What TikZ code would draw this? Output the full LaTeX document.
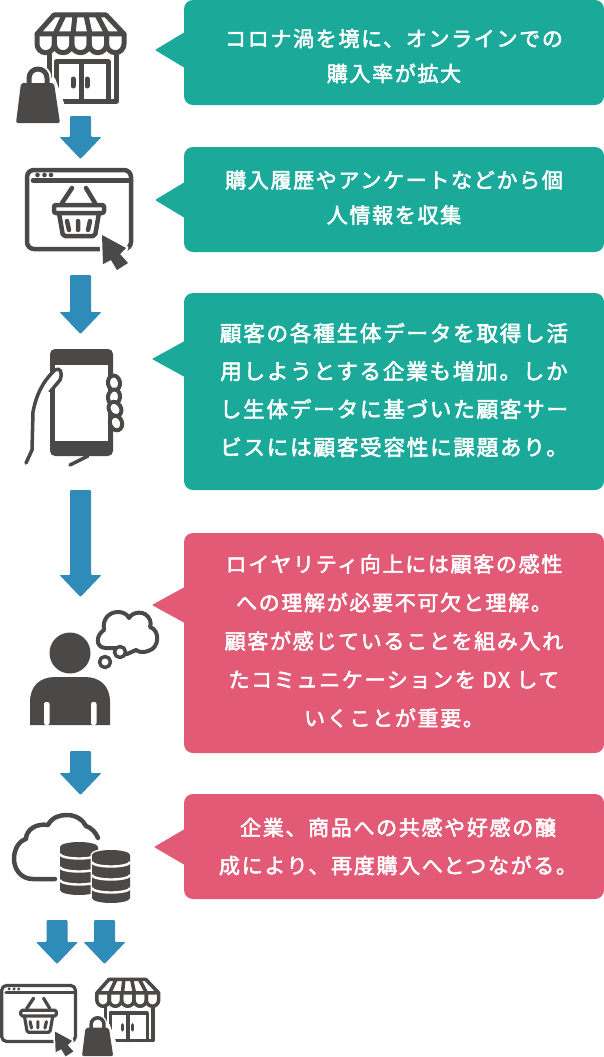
\documentclass[tikz,border=0pt]{standalone}
\usepackage{fontspec}
\setmainfont{Noto Sans CJK JP}
\newfontfamily\jpfont[LetterSpace=8,FakeBold=2.5]{Noto Sans CJK JP}
\definecolor{tealc}{HTML}{1BAA9A}
\definecolor{pinkc}{HTML}{E25A75}
\definecolor{bluec}{HTML}{2F8CB9}
\definecolor{darkc}{HTML}{4B4948}
\tikzset{
  bubble/.style={fill=#1,rounded corners=9pt,minimum width=420pt,inner sep=0pt},
  bubbletext/.style={text=white,align=center,inner sep=0pt,font=\jpfont\fontsize{21}{#1}\selectfont},
  icon/.style={draw=darkc,line width=#1,line join=round,line cap=round},
}
% x y: position of the shaft top centre, last: shaft length
\newcommand{\blockarrow}[3]{
  \fill[bluec,rounded corners=1pt] (#1-10.5,#2) -- (#1+10.5,#2) -- (#1+10.5,#2+#3) -- (#1+21,#2+#3)
    -- (#1,#2+#3+22) -- (#1-21,#2+#3) -- (#1-10.5,#2+#3) -- cycle;
}
\newcommand{\shopicon}[3]{
  \begin{scope}[shift={(#1,#2)},scale=#3]
    \def\lw{#3*5pt}
    \draw[icon=\lw] (54,15) -- (106,15) -- (124,34) -- (37,34) -- cycle;
    \foreach \a/\b in {64/55,75/73,86/90,97/107}
      \draw[icon=\lw] (\a,15) -- (\b,34);
    \foreach \a in {37,54.4,71.8,89.2,106.6}
      \draw[icon=\lw] (\a,34) -- (\a,44) arc (180:0:8.7) -- (\a+17.4,34);
    \draw[icon=\lw] (116,54) -- (116,101) -- (49,101) -- (49,54);
    \draw[icon=\lw] (56,101) -- (56,62) -- (108,62) -- (108,101);
    \draw[icon=\lw] (81,62) -- (81,101);
    \draw[icon=\lw] (73,79) -- (73,86) (87,79) -- (87,86);
    % bag with white edge
    \fill[white] (13,126) -- (22,78) -- (55,78) -- (64,103) -- (64,126) -- cycle;
    \draw[icon=\lw,draw=white,line width=#3*9pt] (29,84) -- (29,78) arc (180:360:9) -- (47,84);
    \draw[icon=\lw] (29,84) -- (29,78) arc (180:360:9) -- (47,84);
    \fill[darkc,rounded corners=2pt] (21,83) -- (54,83) -- (60,123) -- (16,123) -- cycle;
  \end{scope}
}
\newcommand{\webicon}[3]{
  \begin{scope}[shift={(#1,#2)},scale=#3]
    \def\lw{#3*4.5pt}
    \draw[icon=\lw,rounded corners=#3*7pt] (27,170) rectangle (131,249);
    \draw[icon=\lw] (33,180.5) -- (131,180.5);
    \foreach \a in {37.5,44.5,51}
      \fill[darkc] (\a,175) circle (2.3);
    \draw[icon=\lw] (62,203) -- (72,188) (95,203) -- (86,188);
    \draw[icon=\lw,rounded corners=#3*2pt] (54,205) rectangle (104,213);
    \draw[icon=\lw,rounded corners=#3*2pt] (59,213) -- (63,236) -- (95,236) -- (99,213);
    \draw[icon=\lw] (67,221) -- (69,230) (78,221) -- (78,230) (90,221) -- (88,230);
    % cursor
    \draw[white,line width=#3*5pt,line join=round] (102,235) -- (126,248) -- (120,254) -- (128,263) -- (117,270) -- (111,260) -- (103,264) -- cycle;
    \fill[darkc] (102,235) -- (126,248) -- (120,254) -- (128,263) -- (117,270) -- (111,260) -- (103,264) -- cycle;
  \end{scope}
}
\newcommand{\dbicon}[2]{
  \draw[white,line width=3pt] (#1-19,#2+5) arc (180:360:19 and 5) -- (#1+19,#2+48) arc (0:180:19 and 5) -- cycle;
  \fill[darkc] (#1-19,#2+5) arc (180:360:19 and 5) -- (#1+19,#2+48) arc (0:180:19 and 5) -- cycle;
  \foreach \g in {12,25,38}
    \draw[white,line width=2.4pt] (#1-19,#2+\g) arc (180:0:19 and 4.5);
}
\begin{document}
\begin{tikzpicture}[x=1pt,y=-1pt]
  \useasboundingbox (0,0) rectangle (604,1057);
  % bubbles
  \node[bubble=tealc,minimum height=105pt] (b1) at (394,52.5) {};
  \node[bubble=tealc,minimum height=105pt] (b2) at (394,199.5) {};
  \node[bubble=tealc,minimum height=197pt] (b3) at (394,391.5) {};
  \node[bubble=pinkc,minimum height=220pt] (b4) at (394,643) {};
  \node[bubble=pinkc,minimum height=105pt] (b5) at (394,846.5) {};
  \foreach \n/\c/\x/\y in {b1/tealc/156/50,b2/tealc/156/200,b3/tealc/153/359,b4/pinkc/153/605,b5/pinkc/155/847}
    \draw[\c,fill=\c,line width=1pt,line join=round] (\x,\y) -- ([xshift=2pt,yshift=18pt]\n.west |- 0,\y)
      -- ([xshift=2pt,yshift=-18pt]\n.west |- 0,\y) -- cycle;
  \node[bubbletext=35] (t1) at ([yshift=-3.5pt]b1.center)
    {コロナ渦を境に、オンラインでの\\購入率が拡大};
  \node[bubbletext=35] (t2) at ([yshift=2pt]b2.center)
    {購入履歴やアンケートなどから個\\人情報を収集};
  \node[bubbletext=38,font=\jpfont\fontsize{21.6}{38}\selectfont] (t3) at ([yshift=1.5pt]b3.center)
    {顧客の各種生体データを取得し活\\用しようとする企業も増加。しか\\し生体データに基づいた顧客サー\\ビスには顧客受容性に課題あり。};
  \node[bubbletext=38.5] (t4) at ([yshift=2pt]b4.center)
    {ロイヤリティ向上には顧客の感性\\への理解が必要不可欠と理解。\\顧客が感じていることを組み入れ\\たコミュニケーションを DX して\\いくことが重要。};
  \node[bubbletext=38] (t5) at ([xshift=4pt]b5.center)
    {企業、商品への共感や好感の醸\\成により、再度購入へとつながる。};

  % arrows
  \blockarrow{80.5}{116}{21}
  \blockarrow{80.5}{275}{37}
  \blockarrow{80.5}{490}{85}
  \blockarrow{80.5}{751}{22}
  \blockarrow{57}{920}{22}
  \blockarrow{104.5}{920}{22}

  % icons
  \shopicon{0}{0}{1}
  \webicon{0}{0}{1}
  % phone
  \fill[darkc,rounded corners=5pt] (50,349) rectangle (113,456);
  \fill[white] (55,365) rectangle (108,441);
  \draw[icon=3.5pt,fill=white] (26,463) -- (32,450) -- (33,412) .. controls (36,396) and (42,382) .. (55,370)
    .. controls (60,367) and (63,372) .. (60,380) -- (50,392);
  \fill[white] (46,392) rectangle (50,440);
  \draw[icon=4.5pt] (52,392) -- (52,441);
  \draw[icon=3.5pt] (70,465) -- (88,456);
  \foreach \a/\b/\r in {114/383/10,114/397/-10,115/409/30,116/423/20}
    \draw[icon=4pt,fill=white,rotate around={\r:(\a,\b)}] (\a,\b) ellipse (6 and 7.5);
  % person
  \fill[darkc] (70,653) circle (20.5);
  \fill[darkc] (30,725) -- (30,702) .. controls (30,686) and (40,677) .. (55,677) -- (85,677)
    .. controls (100,677) and (110,686) .. (110,702) -- (110,725) -- cycle;
  \fill[white,rounded corners=2pt] (44,725) -- (44,702) -- (49.5,702) -- (49.5,725) -- cycle;
  \fill[white,rounded corners=2pt] (91,725) -- (91,702) -- (96.5,702) -- (96.5,725) -- cycle;
  % thought cloud
  \draw[icon=4pt] (116,648) -- (105,648) .. controls (95,647) and (96,635) .. (104,630)
    .. controls (102,618) and (110,612) .. (118,612) .. controls (123,612) and (127,614) .. (129,618)
    .. controls (133,611) and (146,610) .. (150,620) .. controls (151,623) and (151,625) .. (150,627)
    .. controls (160,630) and (160,648) .. (148,651) .. controls (143,653) and (139,652) .. (136,650) -- (127,654);
  \draw[icon=3.5pt,fill=white] (120,652) circle (5.5);
  \draw[icon=3.5pt,fill=white] (105,662) circle (5.5);
  % cloud and database
  \draw[icon=4.5pt] (55,879) -- (33,879) .. controls (20,879) and (14,868) .. (14,859)
    .. controls (14,849) and (19,841) .. (26,839) .. controls (26,830) and (36,823) .. (48,825)
    .. controls (52,817) and (60,815) .. (67,815) .. controls (76,815) and (83,820) .. (86,826)
    .. controls (92,828) and (96,833) .. (98,838);
  \dbicon{79}{842}
  \dbicon{111}{850}
  % small copies
  \webicon{-17.5}{864.7}{0.71}
  \shopicon{70.6}{968.8}{0.71}
\end{tikzpicture}
\end{document}
